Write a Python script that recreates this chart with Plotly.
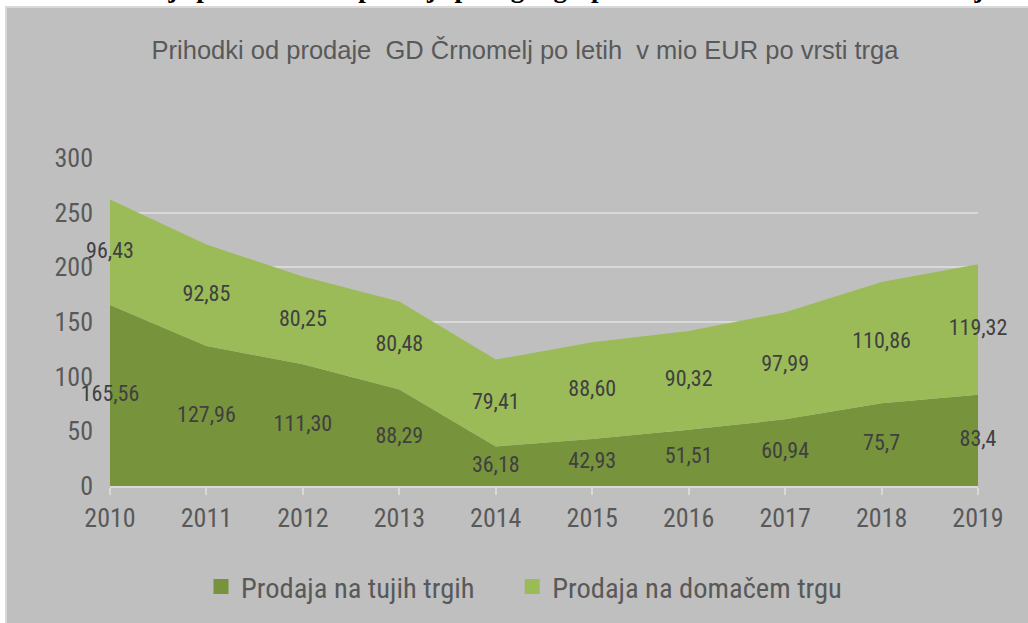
"""Prihodki od prodaje GD Črnomelj - stacked area chart."""
import plotly.graph_objects as go

leta = [2010, 2011, 2012, 2013, 2014, 2015, 2016, 2017, 2018, 2019]
tuji_trgi = ["165.56", "127.96", "111.30", "88.29", "36.18",
             "42.93", "51.51", "60.94", "75.7", "83.4"]
domaci_trg = ["96.43", "92.85", "80.25", "80.48", "79.41",
              "88.60", "90.32", "97.99", "110.86", "119.32"]
y_ticks = [0, 50, 100, 150, 200, 250, 300]

NARROW = "Liberation Sans Narrow, Arial Narrow, Roboto Condensed, DejaVu Sans Condensed, sans-serif"
TEMNO = "#77933c"
SVETLO = "#9bbb59"

tuji = [float(v) for v in tuji_trgi]
domaci = [float(v) for v in domaci_trg]

# pixel helpers for the plot area (l=110, r=50, t=158, b=137)
def px_x(p):
    return (p - 110) / 868

def px_y(p):
    return (486 - p) / 328

fig = go.Figure()
fig.add_trace(go.Scatter(
    x=leta, y=tuji, stackgroup="one", mode="none",
    fillcolor=TEMNO, showlegend=False, hoverinfo="skip",
))
fig.add_trace(go.Scatter(
    x=leta, y=domaci, stackgroup="one", mode="none",
    fillcolor=SVETLO, showlegend=False, hoverinfo="skip",
))

# data labels in the middle of each band
fig.add_trace(go.Scatter(
    x=leta, y=[t / 2 for t in tuji], mode="text",
    text=[v.replace(".", ",") for v in tuji_trgi],
    textfont=dict(family=NARROW, size=22, color="#404040"),
    cliponaxis=False, showlegend=False, hoverinfo="skip",
))
fig.add_trace(go.Scatter(
    x=leta, y=[t + d / 2 for t, d in zip(tuji, domaci)], mode="text",
    text=[v.replace(".", ",") for v in domaci_trg],
    textfont=dict(family=NARROW, size=22, color="#404040"),
    cliponaxis=False, showlegend=False, hoverinfo="skip",
))

# legend entries (nbsp pad widens the gap between the two items)
fig.add_trace(go.Scatter(
    x=[None], y=[None], mode="markers",
    name="Prodaja na tujih trgih" + "\u00a0" * 5,
    marker=dict(symbol="square", size=15, color=TEMNO),
))
fig.add_trace(go.Scatter(
    x=[None], y=[None], mode="markers", name="Prodaja na domačem trgu",
    marker=dict(symbol="square", size=15, color=SVETLO),
))

fig.update_layout(
    width=1028, height=623,
    margin=dict(l=110, r=50, t=158, b=137),
    paper_bgcolor="white",
    plot_bgcolor="rgba(0,0,0,0)",
    title=dict(
        text="Prihodki od prodaje  GD Črnomelj po letih  v mio EUR po vrsti trga",
        font=dict(family="Liberation Sans, Arial, sans-serif", size=25.5, color="#595959"),
        x=525 / 1028, xref="container", xanchor="center",
        y=1 - 50 / 623, yref="container", yanchor="middle",
    ),
    legend=dict(
        orientation="h", traceorder="normal",
        xref="container", x=524 / 1028, xanchor="center",
        yref="container", y=1 - 587 / 623, yanchor="middle",
        font=dict(family=NARROW, size=28.5, color="#595959"),
        bgcolor="rgba(0,0,0,0)",
    ),
    shapes=[dict(
        type="rect", xref="paper", yref="paper", layer="below",
        x0=px_x(6), x1=px_x(1040), y0=px_y(640), y1=px_y(7),
        fillcolor="#bfbfbf", line=dict(color="#d9d9d9", width=2),
    )],
    annotations=[dict(
        text="<b>Slika 6: Gibanje prihodkov od prodaje po trgih gospodarskih družb občine Črnomelj v letih 2010–2019</b>",
        xref="paper", yref="paper", x=px_x(0), y=px_y(5),
        xanchor="left", yanchor="bottom", showarrow=False,
        font=dict(family="Liberation Serif, Times New Roman, serif", size=27, color="black"),
    )],
)
fig.update_xaxes(
    range=[2010, 2019], tickvals=leta, showgrid=False,
    showline=True, linecolor="#d9d9d9", linewidth=2,
    ticks="outside", ticklen=7, tickcolor="#d9d9d9", tickwidth=2,
    tickfont=dict(family=NARROW, size=26, color="#595959"),
    ticklabelstandoff=1, zeroline=False, automargin=False,
)
fig.update_yaxes(
    range=[0, 300], tickvals=y_ticks, showgrid=True,
    gridcolor="#d9d9d9", gridwidth=2, zeroline=False, showline=False,
    tickfont=dict(family=NARROW, size=26, color="#595959"),
    ticklabelstandoff=16, automargin=False,
)

fig.write_html(
    "out.html",
    config={"displayModeBar": False},
    post_script="document.body.style.margin='0';document.body.style.overflow='hidden';",
)
